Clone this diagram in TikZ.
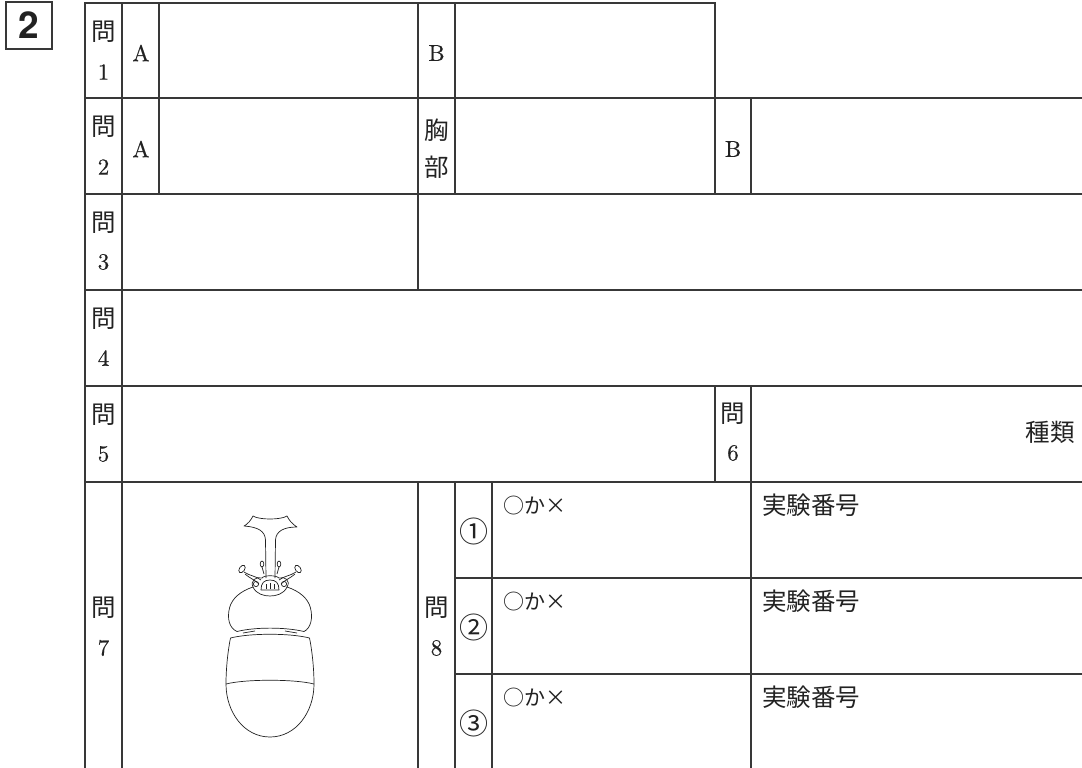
\documentclass[tikz,border=0pt]{standalone}
\usepackage{fontspec}
\newfontfamily\jp{Noto Sans CJK JP}
\newfontfamily\hv{TeX Gyre Heros}
\newfontfamily\lm[FakeBold=0.4]{lmroman10-regular.otf}
\definecolor{ink}{HTML}{222222}
\definecolor{rule}{HTML}{383838}
\tikzset{
  grid/.style={draw=rule,line width=1.4pt,line cap=rect},
  bug/.style={draw=ink,line width=0.7pt,line join=round},
  jtxt/.style={inner sep=0pt,text=ink,font=\jp\fontsize{24.5}{24.5}\selectfont},
  jsm/.style={inner sep=0pt,text=ink,font=\jp\fontsize{21}{21}\selectfont,anchor=west},
  ltxt/.style={inner sep=0pt,text=ink,font=\lm\fontsize{23}{23}\selectfont},
  circ/.style={inner sep=0pt,text=ink,font=\jp\fontsize{29}{29}\selectfont},
}
\begin{document}
\begin{tikzpicture}[x=1pt,y=-1pt]
\useasboundingbox (0,0) rectangle (1082,768);
\fill[white] (0,0) rectangle (1082,768);
% question number box
\node[draw=rule,line width=2pt,minimum width=45.5pt,minimum height=47pt,inner sep=0pt,
      font=\hv\bfseries\fontsize{37}{37}\selectfont,text=ink] (qnum) at (29,25.5) {2};
% grid lines
\draw[grid] (85,3) -- (715,3);
\foreach \yy in {98,194,290,386,482}{\draw[grid] (85,\yy) -- (1082,\yy);}
\foreach \yy in {578,674}{\draw[grid] (455,\yy) -- (1082,\yy);}
\draw[grid] (85,3) -- (85,768);
\draw[grid] (122,3) -- (122,768);
\draw[grid] (159,3) -- (159,194);
\draw[grid] (418,3) -- (418,290);
\draw[grid] (418,482) -- (418,768);
\draw[grid] (455,3) -- (455,194);
\draw[grid] (455,482) -- (455,768);
\draw[grid] (492,482) -- (492,768);
\draw[grid] (715,3) -- (715,194);
\draw[grid] (715,386) -- (715,482);
\draw[grid] (751,98) -- (751,194);
\draw[grid] (751,386) -- (751,768);
% row labels
\node[jtxt] (q1) at (103.5,32) {問}; \node[ltxt] (q1n) at (103.5,72) {1};
\node[jtxt] (q2) at (103.5,127) {問}; \node[ltxt] (q2n) at (103.5,167) {2};
\node[jtxt] (q3) at (103.5,223) {問}; \node[ltxt] (q3n) at (103.5,262) {3};
\node[jtxt] (q4) at (103.5,319) {問}; \node[ltxt] (q4n) at (103.5,358) {4};
\node[jtxt] (q5) at (103.5,415) {問}; \node[ltxt] (q5n) at (103.5,454) {5};
\node[jtxt] (q6) at (733,414) {問}; \node[ltxt] (q6n) at (733,453) {6};
\node[jtxt] (q7) at (103.5,608) {問}; \node[ltxt] (q7n) at (103.5,648) {7};
\node[jtxt] (q8) at (436.5,608) {問}; \node[ltxt] (q8n) at (436.5,648) {8};
% cell labels
\node[ltxt] (a1) at (141,53) {A};
\node[ltxt] (b1) at (436.5,53) {B};
\node[ltxt] (a2) at (141,149) {A};
\node[jtxt] (kyo) at (436.5,130) {胸};
\node[jtxt] (bu) at (436.5,167) {部};
\node[ltxt] (b2) at (733,149) {B};
\node[jtxt,anchor=east] (shurui) at (1075,432) {種類};
% question 8 cells
\node[circ] (c1) at (473.5,531) {①};
\node[circ] (c2) at (473.5,627) {②};
\node[circ] (c3) at (473.5,723) {③};
\node[jsm] (m1) at (503,506) {○か×};
\node[jsm] (m2) at (503,602) {○か×};
\node[jsm] (m3) at (503,698) {○か×};
\node[jtxt,anchor=west] (j1) at (762,505) {実験番号};
\node[jtxt,anchor=west] (j2) at (762,601) {実験番号};
\node[jtxt,anchor=west] (j3) at (762,697) {実験番号};
% beetle
\draw[bug] (266,578) -- (265.5,540) .. controls (265,531) and (258,527) .. (244,526)
  .. controls (248,524) and (251,520) .. (253,516)
  .. controls (259,520) and (281,520) .. (287,516)
  .. controls (289,520) and (292,524) .. (297,527)
  .. controls (284,527) and (276,531) .. (275.5,540) -- (275,578);
% side appendages
\draw[bug,rotate around={-35:(242,569)}] (242,569) ellipse (2.6 and 4.2);
\draw[bug,rotate around={35:(298,569)}] (298,569) ellipse (2.6 and 4.2);
\draw[bug] (244,572) .. controls (250,576) and (256,576) .. (261,580);
\draw[bug] (245,574) .. controls (251,579) and (255,580) .. (259,584);
\draw[bug] (296,572) .. controls (290,576) and (284,576) .. (279,580);
\draw[bug] (295,574) .. controls (289,579) and (285,580) .. (281,584);
\draw[bug] (262,564) ellipse (1.8 and 3);
\draw[bug] (279,564) ellipse (1.8 and 3);
\draw[bug] (262,567) -- (264,574);
\draw[bug] (279,567) -- (277,574);
% head
\draw[bug] (253,587) .. controls (250,581) and (256,576) .. (262,578)
  .. controls (264,575) and (276,575) .. (279,578)
  .. controls (285,576) and (291,581) .. (287,587);
\draw[bug] (253,587) .. controls (256,594) and (264,596) .. (270,596)
  .. controls (276,596) and (284,594) .. (287,587);
\draw[bug] (256,584) circle (2.6);
\draw[bug] (284,584) circle (2.6);
\draw[bug] (261,590) .. controls (261,583) and (264,580) .. (270,580)
  .. controls (276,580) and (279,583) .. (279,590) -- cycle;
\draw[bug] (266,589) -- (266,584); \draw[bug] (270,589) -- (270,583); \draw[bug] (274,589) -- (274,584);
% pronotum
\draw[bug] (253,587) .. controls (241,591) and (232,598) .. (229.5,608)
  .. controls (227,618) and (229,628) .. (237,631.5)
  .. controls (255,627) and (285,627) .. (304,631.5)
  .. controls (311,628) and (313,618) .. (310.5,608)
  .. controls (308,598) and (299,591) .. (287,587);
\draw[bug] (243,633) -- (255,631);
\draw[bug] (297,633) -- (285,631);
% elytra
\draw[bug] (230.5,638) .. controls (250,633) and (290,633) .. (309.5,638)
  .. controls (312,650) and (314,668) .. (314,684)
  .. controls (314,712) and (296,737) .. (270,737)
  .. controls (244,737) and (226,712) .. (226,684)
  .. controls (226,668) and (228,650) .. (230.5,638) -- cycle;
\draw[bug] (226,684) .. controls (245,679) and (295,679) .. (314,684);
\end{tikzpicture}
\end{document}
